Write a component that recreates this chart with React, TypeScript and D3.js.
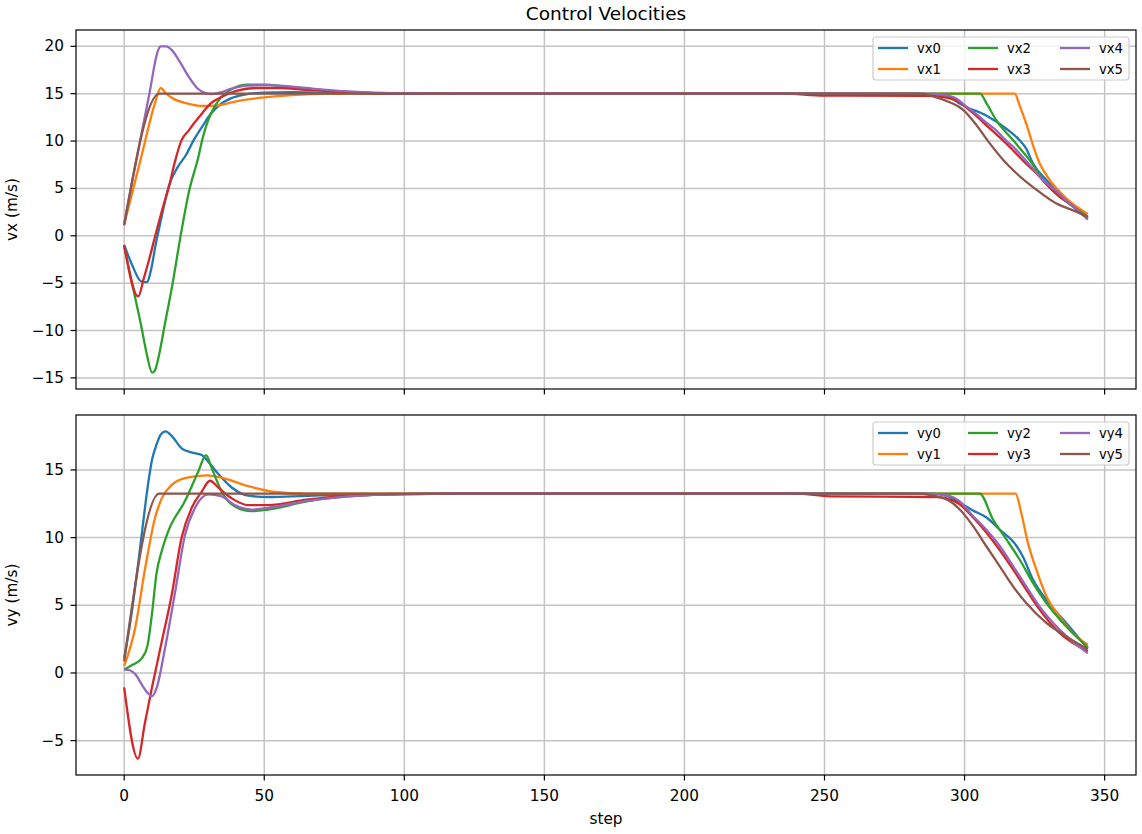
import React from 'react';
import * as d3 from 'd3';

type Pt = [number, number];

// ---- top panel: vx (m/s) ----
const vx0: Pt[] = [[0,-0.95],[3,-3.2],[6,-4.8],[8,-4.9],[10,-3.0],[11,-1.3],[13,1.5],[16,5.3],[19,7.2],[22,8.5],[25,10.2],[28,11.6],[31,12.9],[34,13.8],[38,14.5],[43,14.9],[50,15.1],[60,15.15],[80,15.05],[100,15.0],[240,15.0],[288,14.95],[293.5,14.8],[298.2,13.96],[300.6,13.6],[307.7,12.7],[314.9,11.3],[319.6,10.1],[322,9.2],[324.4,7.65],[329.2,5.9],[336.3,3.8],[344,2.0]];
const vx1: Pt[] = [[0,1.2],[6,8.2],[11,14.0],[13,15.6],[15,15.0],[18,14.4],[22,14.0],[28,13.7],[33,13.75],[40,14.2],[50,14.6],[60,14.85],[70,14.97],[80,15.0],[317.9,15.0],[319.6,13.8],[322,11.86],[324.4,9.58],[326.8,7.65],[330.4,5.89],[336.3,3.96],[344,2.3]];
const vx2: Pt[] = [[0,-1.1],[3,-5.3],[6,-9.4],[8,-12.4],[10,-14.45],[11,-14.2],[12.5,-12.5],[14.6,-9.2],[17,-5.5],[20.5,0.6],[23,4.5],[26.5,8.35],[28,10.3],[30,12.2],[32,13.5],[34,14.4],[38,15.4],[44,15.95],[50,15.95],[58,15.75],[70,15.4],[85,15.1],[100,15.0],[305.5,15.0],[308,13.9],[311.3,12.2],[317.3,10.1],[323.2,8.0],[329.2,5.5],[336.3,3.6],[344,2.0]];
const vx3: Pt[] = [[0,-1.0],[5,-6.4],[7,-4.5],[9,-2.4],[11,-0.1],[14,3.2],[16,5.2],[18,7.7],[20.5,10.1],[23,11.1],[25,11.9],[28,13.0],[31,14.0],[35,14.7],[40,15.3],[47,15.6],[55,15.6],[65,15.4],[80,15.15],[95,15.02],[120,15.0],[235,15.0],[250,14.8],[286,14.78],[291,14.7],[294,14.55],[297,14.3],[300,13.7],[304,12.7],[308,11.6],[311,10.8],[315,9.7],[318,8.8],[322,7.6],[326,6.5],[330,5.2],[334,4.1],[338,3.3],[341,2.5],[344,1.8]];
const vx4: Pt[] = [[0,1.3],[3,6.0],[6,10.5],[9,15.0],[12,19.5],[13,20.0],[15,20.0],[17,19.6],[20,18.3],[23,16.8],[26,15.6],[29,15.05],[31,14.95],[34,15.1],[38,15.5],[44,15.85],[50,15.9],[58,15.8],[70,15.45],[85,15.15],[100,15.02],[120,15.0],[285,15.0],[292,14.9],[297,14.5],[300,13.8],[304,12.9],[308,11.9],[311,11.2],[315,10.0],[318,9.2],[322,7.9],[325,6.9],[329,5.6],[332.6,4.8],[336,3.8],[340,2.8],[344,1.7]];
const vx5: Pt[] = [[0,1.1],[12.5,15.0],[13.5,15.0],[284,15.0],[289,14.7],[294.7,14.1],[299.5,13.3],[304.2,11.7],[309,9.75],[313.8,8.0],[318.5,6.6],[325.7,4.85],[332.8,3.4],[339.9,2.55],[344,2.0]];

// ---- bottom panel: vy (m/s) ----
const vy0: Pt[] = [[0,1.1],[2,3.5],[5.1,8.25],[7,11.5],[8.7,14.2],[10,15.8],[11.6,16.9],[13,17.6],[14.8,17.85],[17,17.5],[20.5,16.6],[24,16.3],[27.7,16.1],[30,15.6],[33.6,14.7],[38.4,13.7],[44.3,13.1],[51.4,13.0],[60,13.05],[70,13.12],[90,13.22],[110,13.25],[289,13.25],[293.5,13.1],[298.2,12.6],[303,12.0],[307.7,11.5],[312.5,10.6],[318.5,9.4],[320.8,8.6],[324.4,6.9],[329.2,5.4],[336.3,3.7],[344,1.8]];
const vy1: Pt[] = [[0,0.5],[3.9,3.3],[7.5,7.75],[11,11.45],[13.4,12.9],[17,13.9],[21.7,14.4],[29.5,14.6],[36,14.36],[44.3,13.8],[53.8,13.37],[65,13.25],[318.2,13.25],[320.2,11.86],[322.6,9.63],[325.6,7.65],[329.2,5.67],[333.9,4.18],[338.7,2.95],[344,2.08]];
const vy2: Pt[] = [[0,0.25],[3,0.6],[6.3,1.1],[8.3,2.0],[10,4.5],[11.5,7.3],[13.4,9.0],[15.8,10.5],[21.7,12.7],[26.5,14.9],[29.2,16.1],[31.2,15.15],[34.8,13.4],[39.5,12.3],[45.5,11.95],[51.4,12.07],[65.7,12.7],[80,13.05],[100,13.22],[120,13.25],[305.4,13.25],[310.1,11.36],[314.9,9.88],[319.6,8.4],[324.4,6.66],[329.2,5.17],[336.3,3.44],[344,1.9]];
const vy3: Pt[] = [[0,-1.06],[4.9,-6.33],[7.4,-3.7],[9.9,-1.1],[13.4,2.3],[17,5.8],[20.5,10.0],[24.1,12.2],[27.7,13.4],[30.6,14.2],[33.6,13.7],[38.4,12.9],[44.3,12.4],[51.4,12.4],[65,12.8],[80,13.1],[100,13.22],[120,13.25],[240,13.25],[252,13.05],[290,13.0],[293.5,12.9],[298,12.5],[303,11.5],[307.7,10.4],[312.5,9.1],[317.3,7.65],[322,6.16],[326.8,4.68],[333.9,2.95],[344,1.6]];
const vy4: Pt[] = [[0,0.25],[2,0.2],[4,-0.1],[6.3,-0.86],[8.5,-1.5],[9.9,-1.72],[11.6,-1.1],[14.6,1.85],[18.2,6.0],[21.7,10.2],[25.3,12.2],[30,13.2],[34.8,13.05],[39.5,12.4],[45.5,12.07],[51.4,12.2],[65,12.7],[80,13.05],[100,13.22],[120,13.25],[285,13.25],[292,13.15],[295.8,13.0],[298.2,12.7],[303,11.6],[307.7,10.6],[312.5,9.4],[317.3,7.9],[322,6.4],[326.8,4.9],[333.9,3.2],[344,1.46]];
const vy5: Pt[] = [[0,0.86],[12.5,13.25],[13.5,13.25],[284,13.25],[288.8,13.1],[294.7,12.7],[298.2,12.1],[303,10.87],[307.7,9.38],[312.5,7.9],[317.3,6.4],[322,5.17],[329.2,3.7],[336.3,2.7],[344,1.75]];

const vxSeries = [vx0, vx1, vx2, vx3, vx4, vx5];
const vySeries = [vy0, vy1, vy2, vy3, vy4, vy5];
const vxNames = ['vx0', 'vx1', 'vx2', 'vx3', 'vx4', 'vx5'];
const vyNames = ['vy0', 'vy1', 'vy2', 'vy3', 'vy4', 'vy5'];
const colors = ['#1f77b4', '#ff7f0e', '#2ca02c', '#d62728', '#9467bd', '#8c564b'];
const xTicks = [0, 50, 100, 150, 200, 250, 300, 350];
const vxTicks = [-15, -10, -5, 0, 5, 10, 15, 20];
const vyTicks = [-5, 0, 5, 10, 15];

const W = 1142;
const H = 834;
const LEFT = 76;
const RIGHT = 1136;
const FONT = "'DejaVu Sans', sans-serif";
const TICK_FS = 15.3;

function padded(ext: [number, number]): [number, number] {
  const r = ext[1] - ext[0];
  return [ext[0] - 0.05 * r, ext[1] + 0.05 * r];
}

const allSteps = vxSeries.concat(vySeries).flat().map((p) => p[0]);
const xScale = d3
  .scaleLinear()
  .domain(padded(d3.extent(allSteps) as [number, number]))
  .range([LEFT, RIGHT]);

interface PanelProps {
  top: number;
  bottom: number;
  series: Pt[][];
  names: string[];
  ticks: number[];
  label: string;
  showXLabels: boolean;
}

function Panel({ top, bottom, series, names, ticks, label, showXLabels }: PanelProps) {
  const vals = series.flat().map((p) => p[1]);
  const y = d3
    .scaleLinear()
    .domain(padded(d3.extent(vals) as [number, number]))
    .range([bottom, top]);
  const line = d3
    .line<Pt>()
    .x((p) => xScale(p[0]))
    .y((p) => y(p[1]))
    .curve(d3.curveMonotoneX);
  const clipId = `clip-${top}`;
  const lgRight = RIGHT - 7;
  const lgLeft = lgRight - 256;
  const lgTop = top + 7;
  const colX = [5, 95, 187];
  return (
    <g>
      <defs>
        <clipPath id={clipId}>
          <rect x={LEFT} y={top} width={RIGHT - LEFT} height={bottom - top} />
        </clipPath>
      </defs>
      <g stroke="#c4c4c4" strokeWidth={1.5}>
        {xTicks.map((t) => (
          <line key={`gx${t}`} x1={xScale(t)} x2={xScale(t)} y1={top} y2={bottom} />
        ))}
        {ticks.map((t) => (
          <line key={`gy${t}`} x1={LEFT} x2={RIGHT} y1={y(t)} y2={y(t)} />
        ))}
      </g>
      <g clipPath={`url(#${clipId})`} fill="none" strokeWidth={2.3} strokeLinejoin="round" strokeLinecap="butt">
        {series.map((s, i) => (
          <path key={names[i]} d={line(s) || ''} stroke={colors[i]} />
        ))}
      </g>
      <rect x={LEFT} y={top} width={RIGHT - LEFT} height={bottom - top} fill="none" stroke="#000" strokeWidth={1.2} />
      <g fontFamily={FONT} fontSize={TICK_FS} fill="#000">
        {ticks.map((t) => (
          <g key={`ty${t}`}>
            <line x1={LEFT - 5.5} x2={LEFT} y1={y(t)} y2={y(t)} stroke="#000" strokeWidth={1.2} />
            <text x={LEFT - 12} y={y(t)} textAnchor="end" dominantBaseline="central">
              {t < 0 ? `\u2212${Math.abs(t)}` : `${t}`}
            </text>
          </g>
        ))}
        {xTicks.map((t) => (
          <g key={`tx${t}`}>
            <line x1={xScale(t)} x2={xScale(t)} y1={bottom} y2={bottom + 5.5} stroke="#000" strokeWidth={1.2} />
            {showXLabels && (
              <text x={xScale(t)} y={bottom + 21} textAnchor="middle" dominantBaseline="central">
                {t}
              </text>
            )}
          </g>
        ))}
        <text
          transform={`translate(12,${(top + bottom) / 2}) rotate(-90)`}
          textAnchor="middle"
          dominantBaseline="central"
        >
          {label}
        </text>
      </g>
      <g fontFamily={FONT} fontSize={13.2}>
        <rect
          x={lgLeft}
          y={lgTop}
          width={lgRight - lgLeft}
          height={43}
          rx={3}
          fill="#fff"
          fillOpacity={0.8}
          stroke="#cccccc"
          strokeWidth={1.2}
        />
        {names.map((n, i) => {
          const col = Math.floor(i / 2);
          const row = i % 2;
          const lx = lgLeft + colX[col];
          const ly = lgTop + 11 + row * 21;
          return (
            <g key={`lg${n}`}>
              <line x1={lx} x2={lx + 30} y1={ly} y2={ly} stroke={colors[i]} strokeWidth={2.3} />
              <text x={lx + 39} y={ly} dominantBaseline="central" fill="#000">
                {n}
              </text>
            </g>
          );
        })}
      </g>
    </g>
  );
}

export default function App() {
  return (
    <svg
      width={W}
      height={H}
      viewBox={`0 0 ${W} ${H}`}
      style={{ position: 'absolute', left: 0, top: 0, background: '#fff' }}
    >
      <rect x={0} y={0} width={W} height={H} fill="#fff" />
      <text x={(LEFT + RIGHT) / 2} y={13} textAnchor="middle" dominantBaseline="central" fontFamily={FONT} fontSize={18.5}>
        Control Velocities
      </text>
      <Panel top={30} bottom={389} series={vxSeries} names={vxNames} ticks={vxTicks} label="vx (m/s)" showXLabels={false} />
      <Panel top={415} bottom={775} series={vySeries} names={vyNames} ticks={vyTicks} label="vy (m/s)" showXLabels={true} />
      <text x={(LEFT + RIGHT) / 2} y={819} textAnchor="middle" dominantBaseline="central" fontFamily={FONT} fontSize={TICK_FS}>
        step
      </text>
    </svg>
  );
}
